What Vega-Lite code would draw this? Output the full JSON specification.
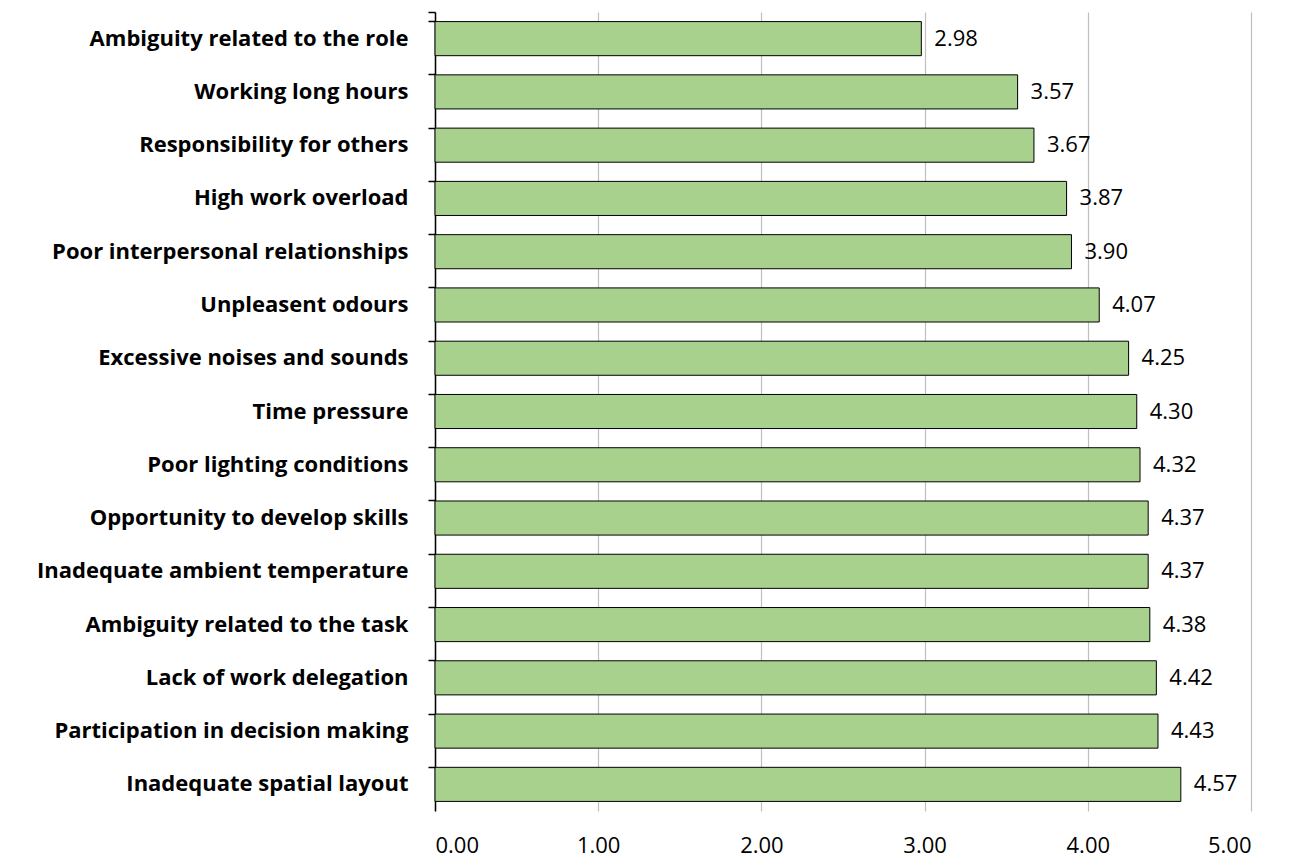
{
  "$schema": "https://vega.github.io/schema/vega-lite/v6.json",
  "autosize": "none",
  "width": 816,
  "height": 799,
  "padding": {"left": 435, "top": 12, "right": 38, "bottom": 51},
  "background": "white",
  "data": {
    "values": [
      {"factor": "Ambiguity related to the role", "score": 2.98},
      {"factor": "Working long hours ", "score": 3.57},
      {"factor": "Responsibility for others", "score": 3.67},
      {"factor": "High work overload ", "score": 3.87},
      {"factor": "Poor interpersonal relationships", "score": 3.90},
      {"factor": "Unpleasent odours ", "score": 4.07},
      {"factor": "Excessive noises and sounds ", "score": 4.25},
      {"factor": "Time pressure ", "score": 4.30},
      {"factor": "Poor lighting conditions", "score": 4.32},
      {"factor": "Opportunity to develop skills", "score": 4.37},
      {"factor": "Inadequate ambient temperature", "score": 4.37},
      {"factor": "Ambiguity related to the task", "score": 4.38},
      {"factor": "Lack of work delegation", "score": 4.42},
      {"factor": "Participation in decision making ", "score": 4.43},
      {"factor": "Inadequate spatial layout", "score": 4.57}
    ]
  },
  "config": {
    "view": {"stroke": null},
    "font": "Open Sans"
  },
  "encoding": {
    "y": {
      "field": "factor",
      "type": "nominal",
      "sort": null,
      "title": null,
      "scale": {"paddingInner": 0.36, "paddingOuter": 0.18},
      "axis": {
        "domainColor": "#000000",
        "domainWidth": 1.5,
        "tickColor": "#000000",
        "tickWidth": 1.5,
        "tickSize": 7,
        "bandPosition": 0,
        "tickExtra": true,
        "labelFont": "Open Sans",
        "labelFontWeight": "bold",
        "labelFontSize": 22,
        "labelColor": "#000000",
        "labelPadding": 20,
        "labelLimit": 500
      }
    },
    "x": {
      "field": "score",
      "type": "quantitative",
      "title": null,
      "scale": {"domain": [0, 5], "nice": false, "zero": true},
      "axis": {
        "values": [0, 1, 2, 3, 4, 5],
        "format": ".2f",
        "domain": false,
        "ticks": false,
        "grid": true,
        "gridColor": "#BFBFBF",
        "gridWidth": 1.2,
        "labelFont": "Open Sans",
        "labelFontSize": 22,
        "labelColor": "#000000",
        "labelPadding": 24
      }
    }
  },
  "layer": [
    {
      "mark": {"type": "bar", "color": "#A9D18E", "stroke": "#000000", "strokeWidth": 1}
    },
    {
      "mark": {"type": "text", "align": "left", "dx": 13, "fontSize": 22, "font": "Open Sans", "color": "#000000"},
      "encoding": {
        "text": {"field": "score", "type": "quantitative", "format": ".2f"}
      }
    }
  ]
}
